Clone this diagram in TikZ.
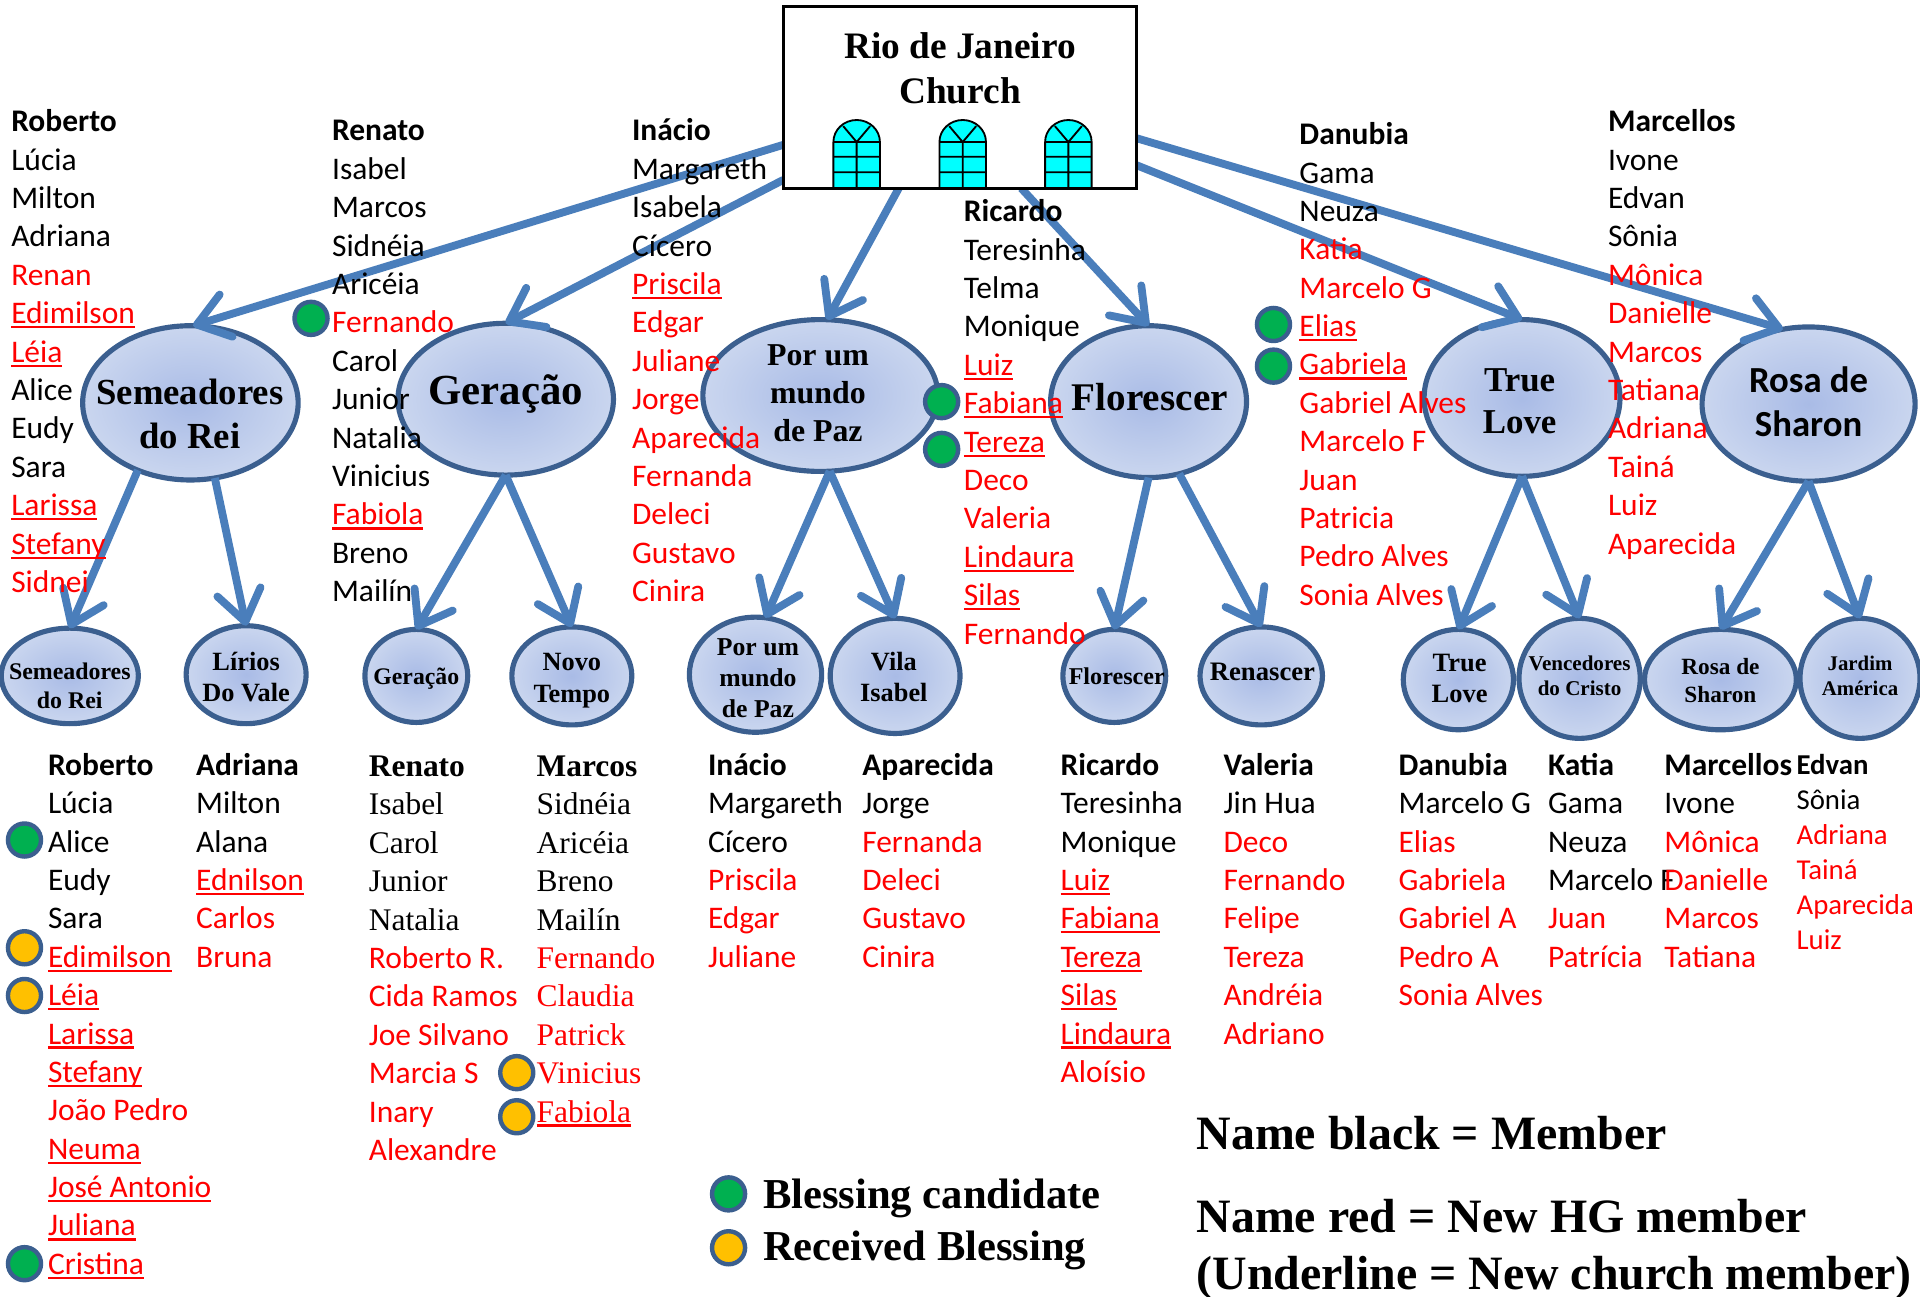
\documentclass[tikz,border=0pt]{standalone}
\usepackage{fontspec}
\setmainfont{Carlito}
\newfontfamily\tnr{Liberation Serif}
\usetikzlibrary{arrows.meta,shapes.geometric}
\definecolor{arrowblue}{HTML}{4A7EBB}
\definecolor{edgeblue}{HTML}{3B5F8F}
\definecolor{bubin}{HTML}{A9BBE6}
\definecolor{bubout}{HTML}{CAD6EF}
\definecolor{dotgreen}{HTML}{00B050}
\definecolor{dotgold}{HTML}{FFC000}
\definecolor{wincyan}{HTML}{00FFFF}
\definecolor{namered}{HTML}{FF0000}
\newcommand\ppB[1]{\strut\textbf{#1}}
\newcommand\ppK[1]{\strut #1}
\newcommand\ppR[1]{\strut\textcolor{namered}{#1}}
\newcommand\ppU[1]{\strut\textcolor{namered}{\setbox0\hbox{#1}\rlap{\rule[-3.8pt]{\wd0}{1.8pt}}\box0}}
\newcommand\ppSB[1]{\strut{\tnr\bfseries #1}}
\newcommand\ppSK[1]{\strut{\tnr #1}}
\newcommand\ppSR[1]{\strut\textcolor{namered}{\tnr #1}}
\newcommand\ppSU[1]{\strut\textcolor{namered}{\tnr\setbox0\hbox{#1}\rlap{\rule[-3.8pt]{\wd0}{1.8pt}}\box0}}
\newcommand\bubble[9]{%
  \node[bubshape,minimum width=#4*2pt,minimum height=#5*2pt] (#1) at (#2,#3) {};
  \node[bubtext,font={\tnr\bfseries\fontsize{#8}{\the\dimexpr#8pt*12/10\relax}\selectfont}] (#1T) at (#6,#7) {#9};}
\newcommand\bubsans[9]{%
  \node[bubshape,minimum width=#4*2pt,minimum height=#5*2pt] (#1) at (#2,#3) {};
  \node[bubtext,font={\bfseries\fontsize{#8}{\the\dimexpr#8pt*12/10\relax}\selectfont}] (#1T) at (#6,#7) {#9};}
\tikzset{
  bubshape/.style={ellipse,draw=edgeblue,line width=4.2pt,inner sep=0pt,outer sep=0pt,shade,inner color=bubin,outer color=bubout},
  bubtext/.style={align=center,inner sep=0pt,text=black},
  branch/.style={draw=arrowblue,line width=6.4pt,-{Straight Barb[length=25pt,width=36pt,line width=6.4pt,round]}},
  churchbox/.style={draw=black,fill=white,line width=2.2pt,inner sep=0pt,outer sep=0pt,minimum width=288.6pt,minimum height=148.4pt},
  winline/.style={draw=black,line width=1.5pt},
  listn/.style={anchor=north west,inner sep=0pt,align=left,font=\fontsize{25.7}{31.35}\selectfont},
  listsmall/.style={anchor=north west,inner sep=0pt,align=left,font=\fontsize{23.5}{28.7}\selectfont},
  mark dot/.style={circle,draw=edgeblue,line width=3.6pt,minimum size=27pt,inner sep=0pt},
  gdot/.style={mark dot,fill=dotgreen},
  odot/.style={mark dot,fill=dotgold},
  legendtxt/.style={anchor=west,inner sep=0pt,font=\tnr\bfseries\fontsize{39.1}{44}\selectfont},
  keytxt/.style={anchor=west,inner sep=0pt,font=\tnr\bfseries\fontsize{34.8}{38}\selectfont},
}
\begin{document}
\begin{tikzpicture}[x=1pt,y=-1pt]
\useasboundingbox (0,0) rectangle (1568,1059);
% group bubbles
\bubble{semA}{155.5}{329}{88}{63}{155}{338}{30}{Semeadores\\do Rei}
\bubble{gerA}{413}{326}{88}{62}{413}{322}{35}{Geração}
\bubble{pazA}{670}{323}{96}{62}{668}{321}{26}{Por um\\mundo\\de Paz}
\bubble{florA}{938}{328}{80}{62}{939}{324}{32}{Florescer}
\bubble{trueA}{1243}{325}{80}{64}{1241}{328}{28.5}{True\\Love}
\bubsans{rosaA}{1477}{330}{87}{63}{1477}{328}{30}{Rosa de\\Sharon}
% cell bubbles
\bubble{semB}{57}{552}{56}{39}{57}{560}{19.5}{Semeadores\\do Rei}
\bubble{lirB}{201}{551}{49}{40}{201}{553}{21.5}{Lírios\\Do Vale}
\bubble{gerB}{340}{552}{42}{38}{340}{554}{19.4}{Geração}
\bubble{novB}{467}{552}{49}{40}{467}{556}{21.5}{Novo\\Tempo}
\bubble{pazB}{617}{551}{54}{47}{619}{554}{21}{Por um\\mundo\\de Paz}
\bubble{vilB}{731}{552}{53}{47}{730}{553}{21.5}{Vila\\Isabel}
\bubble{florB}{910}{552}{42}{38}{912}{552}{19.7}{Florescer}
\bubble{renB}{1030}{552}{50}{40}{1031}{549}{21.8}{Renascer}
\bubble{truB}{1191}{555}{45}{41}{1192}{554}{21.6}{True\\Love}
\bubble{venB}{1290}{554}{49.5}{49}{1290}{552}{17.2}{Vencedores\\do Cristo}
\bubble{rosB}{1405}{555}{62}{41}{1405}{556}{19}{Rosa de\\Sharon}
\bubble{jarB}{1519}{554}{49}{49}{1519}{552}{17}{Jardim\\América}
% church
\node[churchbox] (church) at (784,79.6) {};
% connectors
\draw[branch] (church.195.5) -- (semA.88);
\draw[branch] (church.205.3) -- (gerA.north);
\draw[branch] (church.236.5) -- (pazA.85);
\draw[branch] (church.304.6) -- (florA.north);
\draw[branch] (church.339.2) -- (trueA.north);
\draw[branch] (church.347.6) -- (rosaA.109);
\draw[branch] (semA.232) -- (semB.north);
\draw[branch] (semA.288) -- (lirB.north);
\draw[branch] (gerA.south) -- (gerB.north);
\draw[branch] (gerA.south) -- (novB.north);
\draw[branch] (pazA.277) -- (pazB.80);
\draw[branch] (pazA.277) -- (vilB.north);
\draw[branch] (florA.south) -- (florB.north);
\draw[branch] (florA.293) -- (renB.north);
\draw[branch] (trueA.south) -- (truB.north);
\draw[branch] (trueA.south) -- (venB.north);
\draw[branch] (rosaA.south) -- (rosB.north);
\draw[branch] (rosaA.south) -- (jarB.north);
% church redrawn over connector starts, with its windows
\node[churchbox] (churchfront) at (784,79.6) {};
\foreach \wx in {699.6,786.2,872.5}{
  \begin{scope}[shift={(\wx,0)}]
    \draw[winline,fill=wincyan] (-19,153.5) -- (-19,116) arc[start angle=180,end angle=0,x radius=19pt,y radius=18pt] -- (19,153.5) -- cycle;
    \draw[winline] (-19,116) -- (19,116) (-19,128) -- (19,128) (-19,140.7) -- (19,140.7) (0,116) -- (0,153.5) (0,116) -- (-11,103) (0,116) -- (11,103);
  \end{scope}
}
\node[bubtext,font={\tnr\bfseries\fontsize{30.5}{36.5}\selectfont}] (churchT) at (784,56) {Rio de Janeiro\\Church};
% dots
\node[gdot] (d1) at (254,260) {};
\node[gdot] (d2) at (769,328) {};
\node[gdot] (d3) at (769,367) {};
\node[gdot] (d4) at (1040,265) {};
\node[gdot] (d5) at (1040,299) {};
\node[gdot] (d6) at (20,686) {};
\node[odot] (d7) at (20,774) {};
\node[odot] (d8) at (20,813) {};
\node[gdot] (d9) at (20,1032) {};
\node[odot] (d10) at (422,876) {};
\node[odot] (d11) at (422,912) {};
\node[gdot] (d12) at (595,975) {};
\node[odot] (d13) at (595,1019) {};
% upper lists
\node[listn] (L1) at (9,85.5) {\ppB{Roberto}\\\ppK{Lúcia}\\\ppK{Milton}\\\ppK{Adriana}\\\ppR{Renan}\\\ppU{Edimilson}\\\ppU{Léia}\\\ppK{Alice}\\\ppK{Eudy}\\\ppK{Sara}\\\ppU{Larissa}\\\ppU{Stefany}\\\ppR{Sidnei}};
\node[listn] (L2) at (271,93) {\ppB{Renato}\\\ppK{Isabel}\\\ppK{Marcos}\\\ppK{Sidnéia}\\\ppK{Aricéia}\\\ppR{Fernando}\\\ppK{Carol}\\\ppK{Junior}\\\ppK{Natalia}\\\ppK{Vinicius}\\\ppU{Fabiola}\\\ppK{Breno}\\\ppK{Mailín}};
\node[listn] (L3) at (516,93) {\ppB{Inácio}\\\ppK{Margareth}\\\ppK{Isabela}\\\ppK{Cícero}\\\ppU{Priscila}\\\ppR{Edgar}\\\ppR{Juliane}\\\ppR{Jorge}\\\ppR{Aparecida}\\\ppR{Fernanda}\\\ppR{Deleci}\\\ppR{Gustavo}\\\ppR{Cinira}};
\node[listn] (L4) at (787,159) {\ppB{Ricardo}\\\ppK{Teresinha}\\\ppK{Telma}\\\ppK{Monique}\\\ppU{Luiz}\\\ppU{Fabiana}\\\ppU{Tereza}\\\ppR{Deco}\\\ppR{Valeria}\\\ppU{Lindaura}\\\ppU{Silas}\\\ppR{Fernando}};
\node[listn] (L5) at (1061,96) {\ppB{Danubia}\\\ppK{Gama}\\\ppK{Neuza}\\\ppR{Katia}\\\ppR{Marcelo G}\\\ppU{Elias}\\\ppU{Gabriela}\\\ppR{Gabriel Alves}\\\ppR{Marcelo F}\\\ppR{Juan}\\\ppR{Patricia}\\\ppR{Pedro Alves}\\\ppR{Sonia Alves}};
\node[listn] (L6) at (1313,85.5) {\ppB{Marcellos}\\\ppK{Ivone}\\\ppK{Edvan}\\\ppK{Sônia}\\\ppR{Mônica}\\\ppR{Danielle}\\\ppR{Marcos}\\\ppR{Tatiana}\\\ppR{Adriana}\\\ppR{Tainá}\\\ppR{Luiz}\\\ppR{Aparecida}};
% lower lists
\node[listn] (M1) at (39,611) {\ppB{Roberto}\\\ppK{Lúcia}\\\ppK{Alice}\\\ppK{Eudy}\\\ppK{Sara}\\\ppU{Edimilson}\\\ppU{Léia}\\\ppU{Larissa}\\\ppU{Stefany}\\\ppR{João Pedro}\\\ppU{Neuma}\\\ppU{José Antonio}\\\ppU{Juliana}\\\ppU{Cristina}};
\node[listn] (M2) at (160,611) {\ppB{Adriana}\\\ppK{Milton}\\\ppK{Alana}\\\ppU{Ednilson}\\\ppR{Carlos}\\\ppR{Bruna}};
\node[listn] (M3) at (301,612) {\ppSB{Renato}\\\ppSK{Isabel}\\\ppSK{Carol}\\\ppSK{Junior}\\\ppSK{Natalia}\\\ppR{Roberto R.}\\\ppR{Cida Ramos}\\\ppR{Joe Silvano}\\\ppR{Marcia S}\\\ppR{Inary}\\\ppR{Alexandre}};
\node[listn] (M4) at (438,612) {\ppSB{Marcos}\\\ppSK{Sidnéia}\\\ppSK{Aricéia}\\\ppSK{Breno}\\\ppSK{Mailín}\\\ppSR{Fernando}\\\ppSR{Claudia}\\\ppSR{Patrick}\\\ppSR{Vinicius}\\\ppSU{Fabiola}};
\node[listn] (M5) at (578,611) {\ppB{Inácio}\\\ppK{Margareth}\\\ppK{Cícero}\\\ppR{Priscila}\\\ppR{Edgar}\\\ppR{Juliane}};
\node[listn] (M6) at (704,611) {\ppB{Aparecida}\\\ppK{Jorge}\\\ppR{Fernanda}\\\ppR{Deleci}\\\ppR{Gustavo}\\\ppR{Cinira}};
\node[listn] (M7) at (866,611) {\ppB{Ricardo}\\\ppK{Teresinha}\\\ppK{Monique}\\\ppU{Luiz}\\\ppU{Fabiana}\\\ppU{Tereza}\\\ppU{Silas}\\\ppU{Lindaura}\\\ppR{Aloísio}};
\node[listn] (M8) at (999,611) {\ppB{Valeria}\\\ppK{Jin Hua}\\\ppR{Deco}\\\ppR{Fernando}\\\ppR{Felipe}\\\ppR{Tereza}\\\ppR{Andréia}\\\ppR{Adriano}};
\node[listn] (M9) at (1142,611) {\ppB{Danubia}\\\ppK{Marcelo G}\\\ppR{Elias}\\\ppR{Gabriela}\\\ppR{Gabriel A}\\\ppR{Pedro A}\\\ppR{Sonia Alves}};
\node[listn] (M10) at (1264,611) {\ppB{Katia}\\\ppK{Gama}\\\ppK{Neuza}\\\ppK{Marcelo F}\\\ppR{Juan}\\\ppR{Patrícia}};
\node[listn] (M11) at (1359,611) {\ppB{Marcellos}\\\ppK{Ivone}\\\ppR{Mônica}\\\ppR{Danielle}\\\ppR{Marcos}\\\ppR{Tatiana}};
\node[listsmall] (M12) at (1467,612) {\ppB{Edvan}\\\ppK{Sônia}\\\ppR{Adriana}\\\ppR{Tainá}\\\ppR{Aparecida}\\\ppR{Luiz}};
% keys
\node[keytxt] (k1) at (623,979) {Blessing candidate};
\node[keytxt] (k2) at (623,1021) {Received Blessing};
\node[legendtxt] (k3) at (977,925.5) {Name black = Member};
\node[legendtxt] (k4) at (977,993) {Name red = New HG member};
\node[legendtxt] (k5) at (977,1044) {(Underline = New church member)};
\end{tikzpicture}
\end{document}
